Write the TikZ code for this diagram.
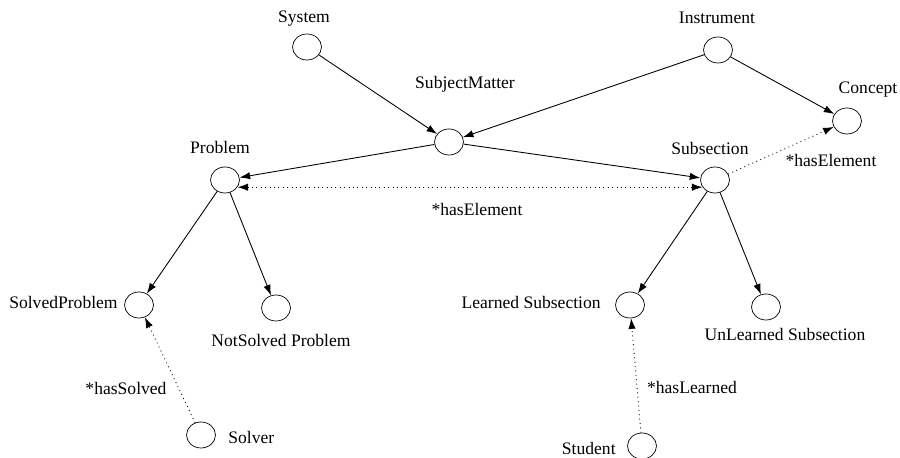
\documentclass[tikz,border=0pt]{standalone}
\usepackage{fontspec}
\setmainfont{Liberation Serif}
\usepackage{tikz}
\usetikzlibrary{shapes.geometric,arrows.meta}
\tikzset{cls/.style={draw, ellipse, minimum width=0.58cm, minimum height=0.52cm, inner sep=0pt}}
\tikzset{lbl/.style={inner sep=0pt, font=\fontsize{10}{12}\selectfont}}
\tikzset{isa/.style={-{Latex[length=6pt,width=4.2pt]}, line width=0.5pt}}
\tikzset{rel/.style={isa, dotted}}

\begin{document}
\begin{tikzpicture}
\useasboundingbox (0,0) rectangle (18,9.16);
\node[cls] (sys) at (6.14,8.22) {};
\node[cls] (ins) at (14.36,8.16) {};
\node[cls] (subj) at (8.98,6.32) {};
\node[cls] (con) at (16.94,6.74) {};
\node[cls] (prob) at (4.50,5.56) {};
\node[cls] (subs) at (14.30,5.56) {};
\node[cls] (solved) at (2.78,3.06) {};
\node[cls] (notsolved) at (5.52,3.00) {};
\node[cls] (learned) at (12.60,3.06) {};
\node[cls] (unlearned) at (15.32,3.02) {};
\node[cls] (solver) at (4.02,0.46) {};
\node[cls] (student) at (12.84,0.24) {};
\node[lbl] (sysl) at (6.08,8.78) {System};
\node[lbl] (insl) at (14.34,8.80) {Instrument};
\node[lbl] (subjl) at (9.30,7.48) {SubjectMatter};
\node[lbl] (conl) at (17.36,7.36) {Concept};
\node[lbl] (probl) at (4.40,6.22) {Problem};
\node[lbl] (subsl) at (14.20,6.20) {Subsection};
\node[lbl, anchor=east] (solvedl) at (2.36,3.10) {SolvedProblem};
\node[lbl] (notsolvedl) at (5.62,2.36) {NotSolved Problem};
\node[lbl, anchor=east] (learnedl) at (12.02,3.10) {Learned Subsection};
\node[lbl] (unlearnedl) at (15.70,2.46) {UnLearned Subsection};
\node[lbl, anchor=west] (solverl) at (4.56,0.42) {Solver};
\node[lbl, anchor=east] (studentl) at (12.32,0.20) {Student};
\node[lbl] (elema) at (9.54,4.96) {*hasElement};
\node[lbl] (elemb) at (16.62,5.96) {*hasElement};
\node[lbl] (solvedr) at (2.52,1.40) {*hasSolved};
\node[lbl] (learnedr) at (13.84,1.42) {*hasLearned};
\draw[isa] (sys) -- (subj);
\draw[isa] (ins) -- (subj);
\draw[isa] (ins) -- (con);
\draw[isa] (subj) -- (prob);
\draw[isa] (subj) -- (subs);
\draw[isa] (prob) -- (solved);
\draw[isa] (prob) -- (notsolved);
\draw[isa] (subs) -- (learned);
\draw[isa] (subs) -- (unlearned);
\draw[rel, {Latex[length=6pt,width=4.2pt]}-{Latex[length=6pt,width=4.2pt]}] (prob.-30) -- (subs.210);
\draw[rel] (subs) -- (con);
\draw[rel] (solver) -- (solved);
\draw[rel] (student) -- (learned);
\end{tikzpicture}
\end{document}
